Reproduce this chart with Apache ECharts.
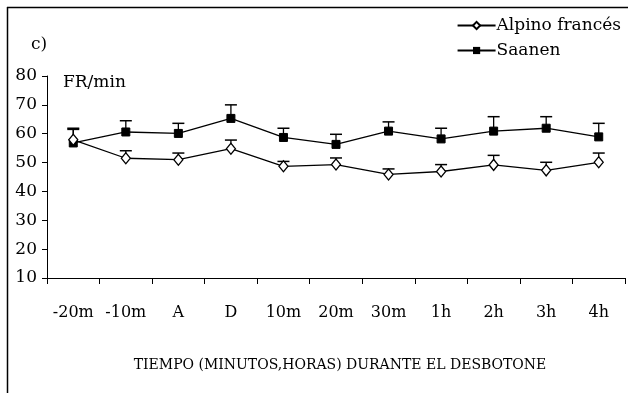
<!DOCTYPE html>
<html>
<head>
<meta charset="utf-8">
<script src="https://cdn.jsdelivr.net/npm/echarts@6/dist/echarts.min.js"></script>
<style>html,body{margin:0;padding:0;background:#fff}#c{width:628px;height:393px}</style>
</head>
<body>
<div id="c"></div>
<script>
var categories = ['-20m','-10m','A','D','10m','20m','30m','1h','2h','3h','4h'];
var alpino = [57.9, 51.5, 51.0, 54.8, 48.7, 49.3, 45.9, 46.9, 49.2, 47.3, 50.1];
var alpinoErrTop = [61.5, 54.1, 53.3, 57.8, 50.4, 51.6, 47.8, 49.3, 52.5, 50.1, 53.3];
var saanen = [56.8, 60.6, 60.1, 65.3, 58.7, 56.3, 60.9, 58.2, 60.9, 61.9, 58.9];
var saanenErrTop = [61.9, 64.5, 63.6, 70.0, 61.9, 59.8, 64.1, 61.9, 65.9, 65.9, 63.6];
var yTicks = [10,20,30,40,50,60,70,80];

var FONT = 'DejaVu Serif';
function errSeries(vals, tops){
  return {
    type:'custom', silent:true, z:1,
    data: vals.map(function(v,i){return [i, v, tops[i]];}),
    renderItem:function(params, api){
      var p0 = api.coord([api.value(0), api.value(1)]);
      var p1 = api.coord([api.value(0), api.value(2)]);
      var hw = 6;
      return {type:'group', children:[
        {type:'line', shape:{x1:p0[0],y1:p0[1],x2:p1[0],y2:p1[1]}, style:{stroke:'#000',lineWidth:1.3}},
        {type:'line', shape:{x1:p1[0]-hw,y1:p1[1],x2:p1[0]+hw,y2:p1[1]}, style:{stroke:'#000',lineWidth:1.5}}
      ]};
    }
  };
}
var chart = echarts.init(document.getElementById('c'));
chart.setOption({
  animation:false,
  backgroundColor:'#fff',
  grid:{left:47, right:3, top:76, bottom:115},
  legend:{
    right:2, top:12, orient:'vertical', itemGap:8, itemWidth:38, itemHeight:9,
    textStyle:{fontFamily:FONT, fontSize:17, color:'#000', padding:[0,0,0,-4]},
    data:['Alpino francés','Saanen']
  },
  xAxis:{
    type:'category', data:categories, boundaryGap:true,
    axisLine:{lineStyle:{color:'#000', width:1}},
    axisTick:{show:true, inside:false, length:6, interval:0, lineStyle:{color:'#000'}},
    axisLabel:{fontFamily:FONT, fontSize:16, color:'#000', margin:27, interval:0, hideOverlap:false},
    name:'TIEMPO (MINUTOS,HORAS) DURANTE EL DESBOTONE',
    nameLocation:'middle', nameGap:80,
    nameTextStyle:{fontFamily:FONT, fontSize:14, color:'#000', padding:[0,0,0,8]}
  },
  yAxis:{
    type:'value', min:10, max:80, interval:10,
    axisLine:{show:true, lineStyle:{color:'#000', width:1}},
    axisTick:{show:true, length:5, lineStyle:{color:'#000'}},
    splitLine:{show:false},
    axisLabel:{fontFamily:FONT, fontSize:17, color:'#000', margin:10}
  },
  graphic:[
    {type:'line', shape:{x1:7.5,y1:7,x2:7.5,y2:393}, style:{stroke:'#000',lineWidth:1.5}},
    {type:'line', shape:{x1:7,y1:7.5,x2:628,y2:7.5}, style:{stroke:'#000',lineWidth:1.5}},
    {type:'text', left:31, top:36, style:{text:'c)', font:'17px "DejaVu Serif"', fill:'#000'}},
    {type:'text', left:63, top:74, style:{text:'FR/min', font:'17px "DejaVu Serif"', fill:'#000'}}
  ],
  series:[
    errSeries(saanen, saanenErrTop),
    errSeries(alpino, alpinoErrTop),
    {name:'Saanen', type:'line', data:saanen, z:3, symbol:'rect', symbolSize:8,
     lineStyle:{color:'#000', width:1.3}, itemStyle:{color:'#000', borderColor:'#000'}},
    {name:'Alpino francés', type:'line', data:alpino, z:4, symbol:'diamond', symbolSize:[9,11],
     lineStyle:{color:'#000', width:1.3}, itemStyle:{color:'#fff', borderColor:'#000', borderWidth:1.3}}
  ]
});
</script>
</body>
</html>
